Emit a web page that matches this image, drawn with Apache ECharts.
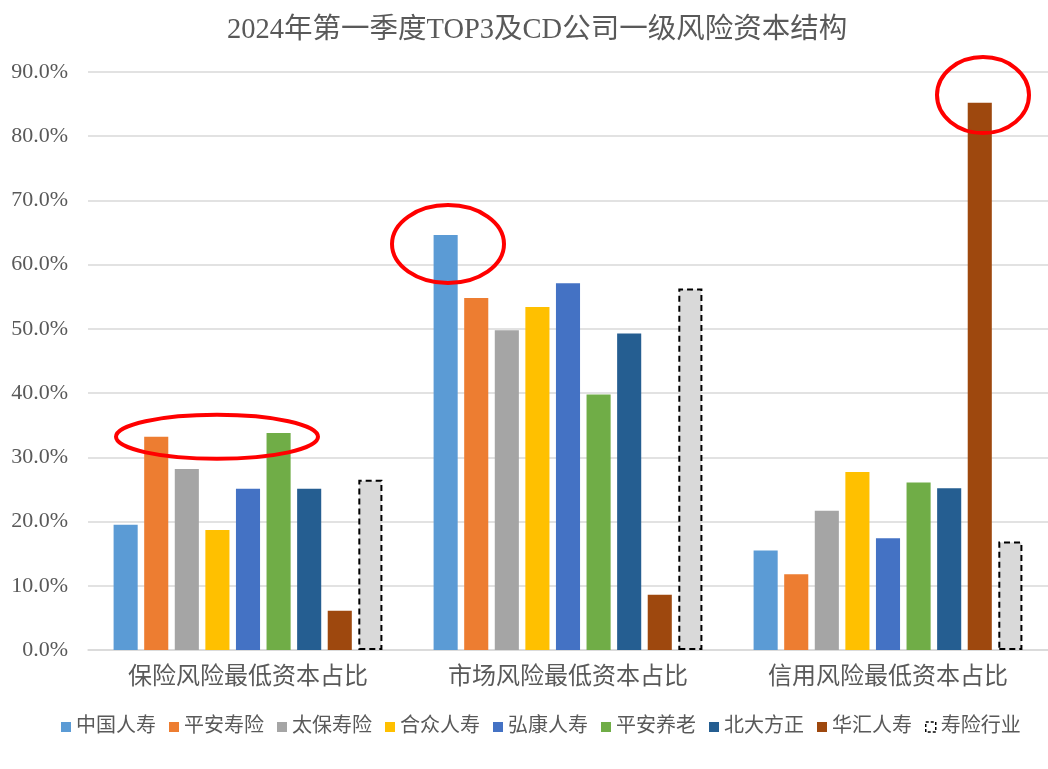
<!DOCTYPE html>
<html>
<head>
<meta charset="utf-8">
<script src="https://cdn.jsdelivr.net/npm/echarts@6/dist/echarts.min.js"></script>
<style>html,body{margin:0;padding:0;background:#fff;}#c{width:1048px;height:769px;}</style>
</head>
<body>
<div id="c"></div>
<script>
const categories = ['保险风险最低资本占比', '市场风险最低资本占比', '信用风险最低资本占比'];
const seriesNames = ['中国人寿', '平安寿险', '太保寿险', '合众人寿', '弘康人寿', '平安养老', '北大方正', '华汇人寿', '寿险行业'];
const seriesColors = ['#5B9BD5', '#ED7D31', '#A5A5A5', '#FFC000', '#4472C4', '#70AD47', '#255E91', '#9E480E', '#D9D9D9'];
const v_zgrs = [19.5, 64.6, 15.5];
const v_pasx = [33.2, 54.8, 11.8];
const v_tbsx = [28.2, 49.8, 21.7];
const v_hzrs = [18.7, 53.4, 27.7];
const v_hkrs = [25.1, 57.1, 17.4];
const v_payl = [33.8, 39.8, 26.1];
const v_bdfz = [25.1, 49.3, 25.2];
const v_hhrs = [6.1, 8.6, 85.2];
const v_sxhy = [26.5, 56.3, 16.9];
const seriesValues = [v_zgrs, v_pasx, v_tbsx, v_hzrs, v_hkrs, v_payl, v_bdfz, v_hhrs, v_sxhy];
const yTicks = [0, 10, 20, 30, 40, 50, 60, 70, 80, 90];

const serif = '"Liberation Serif", "Times New Roman", "Noto Sans CJK SC", serif';
const chart = echarts.init(document.getElementById('c'), null, {renderer: 'canvas'});

const series = seriesNames.map((name, i) => {
  const s = {
    name: name,
    type: 'bar',
    data: seriesValues[i],
    barGap: '27%',
    barCategoryGap: '16%',
    itemStyle: {color: seriesColors[i]},
    emphasis: {disabled: true}
  };
  if (name === '寿险行业') {
    s.itemStyle = {color: seriesColors[i], borderColor: '#000', borderWidth: 2, borderType: [6, 4]};
  }
  return s;
});

chart.setOption({
  animation: false,
  backgroundColor: '#fff',
  title: {
    text: '2024年第一季度TOP3及CD公司一级风险资本结构',
    left: 222,
    top: 11,
    textStyle: {fontFamily: serif, fontSize: 28.5, fontWeight: 'normal', color: '#595959'}
  },
  legend: {
    bottom: 27,
    left: 56,
    itemWidth: 10,
    itemHeight: 10,
    itemGap: 13,
    icon: 'rect',
    textStyle: {fontFamily: serif, fontSize: 20, color: '#595959'},
    data: seriesNames.map((n, i) => n === '寿险行业'
      ? {name: n, itemStyle: {color: '#fff', borderColor: '#000', borderWidth: 1.5, borderType: [3, 2]}}
      : {name: n})
  },
  grid: {left: 88, right: 0, top: 72, bottom: 119},
  xAxis: {
    type: 'category',
    data: categories,
    axisLine: {lineStyle: {color: '#D9D9D9', width: 1.5}},
    axisTick: {show: false},
    axisLabel: {fontFamily: serif, fontSize: 24, color: '#595959', margin: 16}
  },
  yAxis: {
    type: 'value',
    min: yTicks[0],
    max: yTicks[yTicks.length - 1],
    interval: 10,
    axisLine: {show: false},
    axisTick: {show: false},
    splitLine: {lineStyle: {color: '#D9D9D9', width: 1.5}},
    axisLabel: {fontFamily: serif, fontSize: 22, color: '#595959', margin: 20,
      formatter: v => v.toFixed(1) + '%'}
  },
  series: series
});

// Red highlight ellipses, positioned from data via the chart's scales
const highlights = [
  {cat: 0, dx: -31, value: 33.2, rx: 101, ry: 22},
  {cat: 1, dx: -120, value: 63.2, rx: 56, ry: 39},
  {cat: 2, dx: 95, value: 86.4, rx: 46, ry: 38}
];
const graphics = highlights.map(h => {
  const p = chart.convertToPixel({gridIndex: 0}, [h.cat, h.value]);
  return {
    type: 'ellipse',
    shape: {cx: p[0] + h.dx, cy: p[1], rx: h.rx, ry: h.ry},
    style: {fill: null, stroke: '#FF0000', lineWidth: 4},
    z: 100
  };
});
chart.setOption({graphic: graphics});
</script>
</body>
</html>
